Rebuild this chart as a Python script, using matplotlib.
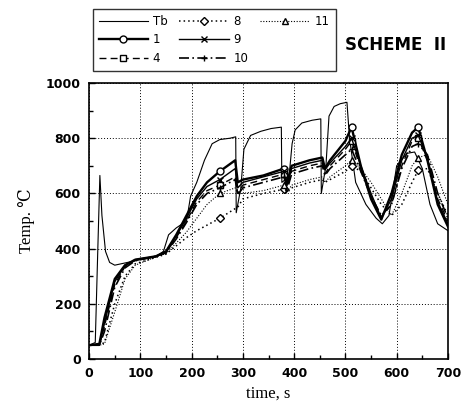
import matplotlib
matplotlib.use('Agg')
import matplotlib.pyplot as plt
from matplotlib.lines import Line2D

# boundary temperature Tb
tb_t = [0, 12, 17, 21, 25, 32, 40, 50, 70, 100, 130, 145, 155, 170, 190, 198, 210, 225,
        240, 255, 275, 286, 287, 296, 302, 315, 335, 355, 375, 376, 390, 396, 402, 415,
        435, 452, 453, 462, 468, 478, 490, 503, 508, 520, 540, 560, 572, 585, 600, 620,
        635, 650, 665, 680, 700]
tb_T = [50, 60, 400, 665, 520, 390, 350, 340, 348, 360, 370, 390, 450, 475, 500, 590, 640, 720,
        780, 795, 800, 805, 530, 620, 760, 810, 825, 835, 840, 640, 660, 780, 830, 855,
        865, 870, 600, 700, 880, 915, 925, 930, 800, 640, 560, 510, 490, 520, 700, 745,
        750, 690, 560, 490, 465]

# thermocouple positions share one time base
tc_t = [0, 20, 30, 50, 70, 90, 130, 150, 170, 190, 210, 230, 255, 285, 290, 300, 340, 380,
        385, 395, 430, 455, 460, 470, 500, 512, 530, 550, 570, 590, 610, 630, 642, 660, 680, 700]
tc1 = [50, 55, 150, 290, 340, 360, 372, 390, 450, 520, 590, 640, 680, 720, 640, 650, 665, 690,
       630, 700, 720, 730, 690, 720, 790, 840, 700, 580, 505, 600, 740, 820, 840, 720, 560, 480]
tc4 = [50, 50, 120, 270, 335, 358, 372, 385, 440, 500, 570, 610, 630, 660, 600, 630, 650, 670,
       615, 680, 700, 710, 670, 700, 760, 790, 690, 590, 515, 560, 700, 790, 800, 720, 580, 500]
tc8 = [50, 50, 60, 200, 300, 345, 368, 380, 410, 440, 465, 485, 510, 545, 550, 580, 600, 615,
       600, 620, 640, 650, 640, 650, 680, 700, 680, 620, 560, 520, 560, 640, 684, 690, 600, 520]
tc9 = [50, 50, 130, 280, 338, 360, 372, 388, 445, 510, 580, 625, 650, 690, 620, 640, 660, 680,
       625, 690, 710, 720, 685, 710, 770, 800, 700, 600, 510, 580, 720, 800, 810, 730, 570, 490]
tc10 = [50, 50, 100, 260, 330, 356, 372, 385, 435, 495, 560, 600, 620, 650, 595, 620, 640, 660,
        605, 670, 690, 700, 665, 690, 740, 760, 680, 590, 520, 560, 690, 770, 780, 740, 600, 510]
tc11 = [50, 50, 55, 170, 290, 340, 370, 382, 420, 460, 510, 560, 600, 620, 600, 600, 610, 630,
        600, 630, 650, 660, 640, 660, 700, 720, 690, 640, 580, 520, 600, 700, 730, 740, 660, 560]

labels = ['Tb', '1', '4', '8', '9', '10', '11']
x_ticks = [0, 100, 200, 300, 400, 500, 600, 700]
y_ticks = [0, 200, 400, 600, 800, 1000]

fig = plt.figure(figsize=(4.74, 4.17), dpi=100)
ax = fig.add_axes([0.188, 0.139, 0.757, 0.662])

marks = [12, 17, 25, 32]
h_tb, = ax.plot(tb_t, tb_T, color='black', lw=0.8)
h1, = ax.plot(tc_t, tc1, color='black', lw=1.7, marker='o', ms=5, mfc='white', markevery=marks)
h4, = ax.plot(tc_t, tc4, color='black', lw=1.0, ls=(0, (5, 3)), marker='s', ms=4.5, mfc='white', markevery=marks)
h8, = ax.plot(tc_t, tc8, color='black', lw=1.1, ls=(0, (1, 2)), marker='D', ms=4, mfc='white', markevery=marks)
h9, = ax.plot(tc_t, tc9, color='black', lw=1.0, marker='x', ms=5, markevery=marks)
h10, = ax.plot(tc_t, tc10, color='black', lw=1.2, ls=(0, (6, 2, 1, 2)), marker='+', ms=5, markevery=marks)
h11, = ax.plot(tc_t, tc11, color='black', lw=0.8, ls=(0, (1, 1.5)), marker='^', ms=4, mfc='white', markevery=marks)

ax.set_xlim(0, 700)
ax.set_ylim(0, 1000)
ax.set_xticks(x_ticks)
ax.set_yticks(y_ticks)
ax.set_xticks(range(50, 700, 100), minor=True)
ax.set_yticks(range(100, 1000, 200), minor=True)
ax.tick_params(direction='in', length=4, width=1, labelsize=9, pad=6)
ax.tick_params(which='minor', direction='in', length=3, width=1)
for lab in ax.get_xticklabels() + ax.get_yticklabels():
    lab.set_fontweight('bold')
ax.grid(True, ls=(0, (1, 2)), color='black', lw=0.7)
for sp in ax.spines.values():
    sp.set_linewidth(1.2)

serif = ['Liberation Serif', 'DejaVu Serif']
ax.set_xlabel('time, s', family=serif, fontsize=12, labelpad=4)
ax.set_ylabel('Temp. \u2103', family=serif, fontsize=12, labelpad=8)

blank = Line2D([], [], color='none')
leg = fig.legend([h_tb, h1, h4, h8, h9, h10, h11, blank, blank],
                 labels + ['', ''], ncol=3, loc='upper left',
                 bbox_to_anchor=(0.183, 0.992), fontsize=8.5, handlelength=4.2,
                 numpoints=1, frameon=True, fancybox=False, edgecolor='black',
                 borderpad=0.5, labelspacing=0.45, columnspacing=1.0, handletextpad=0.4)
leg.get_frame().set_linewidth(1.0)

fig.text(0.728, 0.892, 'SCHEME  II', fontsize=12, fontweight='bold', ha='left', va='center')

fig.savefig('out.png', dpi=100)
